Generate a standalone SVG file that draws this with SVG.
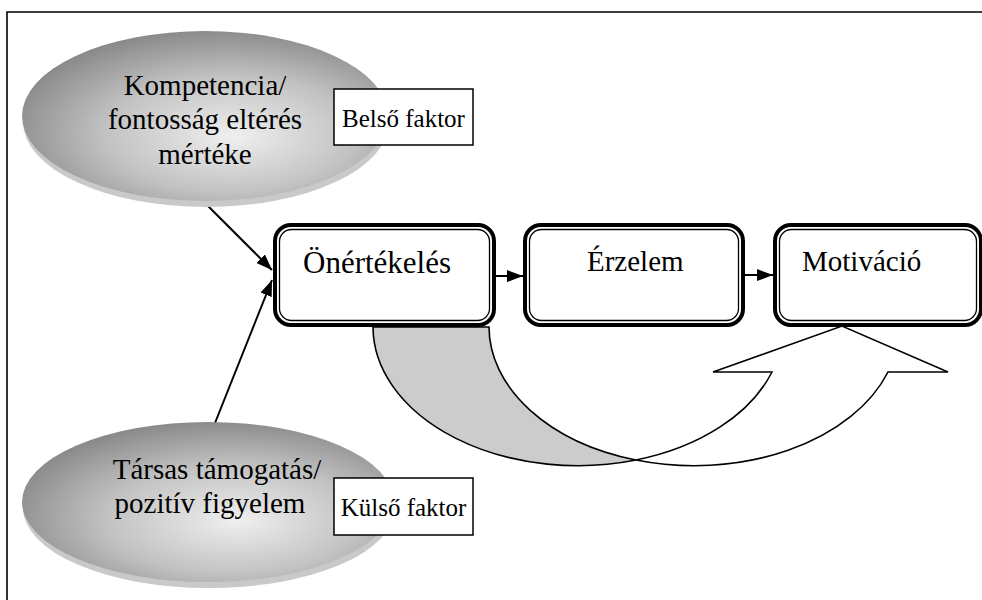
<svg xmlns="http://www.w3.org/2000/svg" width="982" height="600" viewBox="0 0 982 600">
  <style>
    text { font-family: "Liberation Serif", "Times New Roman", "DejaVu Serif", serif; fill: #000; }
    .big { font-size: 29px; }
    .lbl { font-size: 25px; }
    .outer { fill: #fff; stroke: #000; stroke-width: 4; }
    .inner { fill: none; stroke: #000; stroke-width: 1.3; }
    .tag { fill: #fff; stroke: #000; stroke-width: 1.5; }
    .shadow { fill: #c9c9c9; }
    .conn { stroke: #000; stroke-width: 2; fill: none; }
    .band { stroke: #000; stroke-width: 1.6; stroke-linejoin: miter; }
  </style>
  <defs>
    <radialGradient id="shade" cx="0.56" cy="0.6" r="0.62" fx="0.58" fy="0.62">
      <stop offset="0" stop-color="#efefef"/>
      <stop offset="0.55" stop-color="#c2c2c2"/>
      <stop offset="1" stop-color="#888888"/>
    </radialGradient>
    <marker id="head" viewBox="0 0 16 12" markerWidth="16" markerHeight="12" refX="16" refY="6" orient="auto" markerUnits="userSpaceOnUse">
      <path d="M0,0 L16,6 L0,12 Z" fill="#000"/>
    </marker>
  </defs>

  <!-- page frame -->
  <path d="M7,600 V12 H982" fill="none" stroke="#000" stroke-width="1.6"/>

  <!-- curved feedback arrow: back band (grey) and front band with head -->
  <g id="feedback-arrow">
    <path class="band" fill="#cccccc" d="M373,327 A205,139 0 0 0 636,460 A205,139 0 0 1 489,327 Z"/>
    <path class="band" fill="#ffffff" d="M772,372 A205,139 0 0 1 636,460 A205,139 0 0 0 888,372 L948,372 L842,326 L713,372 Z"/>
  </g>

  <!-- connectors -->
  <g id="connectors">
    <line class="conn" x1="204" y1="202" x2="272" y2="270" marker-end="url(#head)"/>
    <line class="conn" x1="215" y1="423" x2="272" y2="280" marker-end="url(#head)"/>
    <line class="conn" x1="496" y1="276" x2="523" y2="276" marker-end="url(#head)"/>
    <line class="conn" x1="745" y1="275" x2="773" y2="275" marker-end="url(#head)"/>
  </g>

  <!-- inner factor ellipse -->
  <g id="competence">
    <ellipse class="shadow" cx="206" cy="122" rx="183" ry="85"/>
    <ellipse cx="205" cy="116" rx="183" ry="85" fill="url(#shade)"/>
    <text class="big" x="205" y="95" text-anchor="middle">Kompetencia/</text>
    <text class="big" x="205" y="129" text-anchor="middle">fontosság eltérés</text>
    <text class="big" x="205" y="164" text-anchor="middle">mértéke</text>
  </g>

  <g id="inner-factor">
    <rect class="tag" x="334" y="89" width="139" height="56"/>
    <text class="lbl" x="403.5" y="127" text-anchor="middle">Belső faktor</text>
  </g>

  <!-- outer factor ellipse -->
  <g id="support">
    <ellipse class="shadow" cx="209" cy="508" rx="186" ry="80"/>
    <ellipse cx="208" cy="502" rx="186" ry="80" fill="url(#shade)"/>
    <text class="big" x="217" y="479" text-anchor="middle">Társas támogatás/</text>
    <text class="big" x="210" y="513" text-anchor="middle">pozitív figyelem</text>
  </g>

  <g id="outer-factor">
    <rect class="tag" x="334" y="478" width="139" height="57"/>
    <text class="lbl" x="403.5" y="516" text-anchor="middle">Külső faktor</text>
  </g>

  <!-- process boxes -->
  <g id="self-esteem">
    <rect class="outer" x="275" y="225" width="219" height="100" rx="16"/>
    <rect class="inner" x="279.5" y="229.5" width="210" height="91" rx="12"/>
    <text x="303" y="273" font-size="31">Önértékelés</text>
  </g>

  <g id="emotion">
    <rect class="outer" x="525" y="225" width="218" height="100" rx="16"/>
    <rect class="inner" x="529.5" y="229.5" width="209" height="91" rx="12"/>
    <text class="big" x="587" y="271">Érzelem</text>
  </g>

  <g id="motivation">
    <rect class="outer" x="775" y="225" width="206" height="100" rx="16"/>
    <rect class="inner" x="779.5" y="229.5" width="197" height="91" rx="12"/>
    <text class="big" x="802" y="271">Motiváció</text>
  </g>
</svg>
